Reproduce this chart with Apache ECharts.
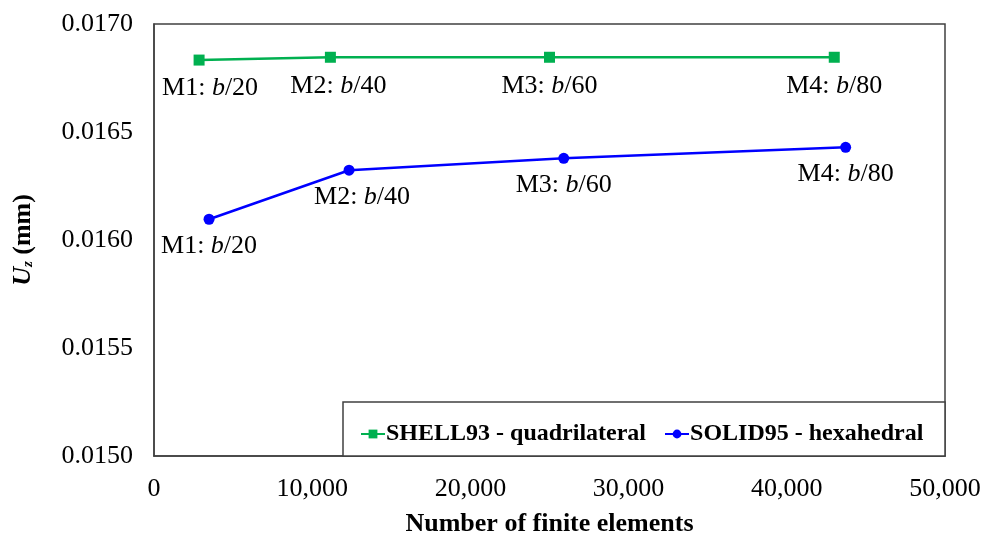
<!DOCTYPE html>
<html>
<head>
<meta charset="utf-8">
<script src="https://cdn.jsdelivr.net/npm/echarts@6/dist/echarts.min.js"></script>
<style>
  html, body { margin: 0; padding: 0; background: #fff; }
  #chart { width: 981px; height: 533px; }
</style>
</head>
<body>
<div id="chart"></div>
<script>
// Mesh refinement levels (element size b/n)
const meshNames = ['M1', 'M2', 'M3', 'M4'];
const meshDivisions = ['20', '40', '60', '80'];

// SHELL93 quadrilateral mesh: element count and displacement Uz (mm)
const shellElements = [2850, 11150, 25000, 43000];
const shellUz = [0.016833, 0.016846, 0.016846, 0.016846];

// SOLID95 hexahedral mesh: element count and displacement Uz (mm)
const solidElements = [3480, 12330, 25900, 43720];
const solidUz = [0.016096, 0.016323, 0.016378, 0.016429];

const seriesNames = ['SHELL93 - quadrilateral', 'SOLID95 - hexahedral'];

// horizontal nudges for individual point labels
const shellLabelShift = [11, 8, 0, 0];
const solidLabelShift = [0, 13, 0, 0];

const FONT = "'Liberation Serif', 'Times New Roman', serif";
const AXIS_COLOR = '#404040';

function withLabels(xs, ys, shift) {
  return xs.map((x, i) => ({ value: [x, ys[i]], label: { offset: [shift[i], 0] } }));
}

const labelRich = {
  n: { fontFamily: FONT, fontSize: 26, color: '#000' },
  i: { fontFamily: FONT, fontSize: 26, color: '#000', fontStyle: 'italic' }
};

function labelFormatter(p) {
  return '{n|' + meshNames[p.dataIndex] + ': }{i|b}{n|/' + meshDivisions[p.dataIndex] + '}';
}

const chart = echarts.init(document.getElementById('chart'));

chart.setOption({
  backgroundColor: '#fff',
  animation: false,
  grid: {
    left: 154, right: 36, top: 24, bottom: 77,
    containLabel: false,
    outerBoundsMode: 'none',
    show: true,
    borderColor: AXIS_COLOR,
    borderWidth: 1.5,
    backgroundColor: 'transparent'
  },
  graphic: [{
    type: 'rect',
    z: 1,
    shape: { x: 343, y: 402, width: 602, height: 54 },
    style: { fill: '#fff', stroke: AXIS_COLOR, lineWidth: 1.5 }
  }],
  legend: {
    left: 355,
    top: 417,
    itemWidth: 24,
    itemHeight: 11,
    itemGap: 18,
    data: seriesNames,
    textStyle: { fontFamily: FONT, fontSize: 24, fontWeight: 'bold', color: '#000', padding: [0, 0, 0, -4] }
  },
  xAxis: {
    type: 'value',
    min: 0,
    max: 50000,
    interval: 10000,
    name: 'Number of finite elements',
    nameLocation: 'middle',
    nameGap: 55,
    nameTextStyle: { fontFamily: FONT, fontSize: 26, fontWeight: 'bold', color: '#000' },
    axisLine: { show: true, lineStyle: { color: AXIS_COLOR, width: 1.5 } },
    axisTick: { show: false },
    splitLine: { show: false },
    axisLabel: {
      fontFamily: FONT, fontSize: 26, color: '#000', margin: 20,
      formatter: (v) => v.toLocaleString('en-US')
    }
  },
  yAxis: {
    type: 'value',
    min: 0.015,
    max: 0.017,
    interval: 0.0005,
    name: '{u|U}{z|z}{n| (mm)}',
    nameLocation: 'middle',
    nameRotate: 90,
    nameGap: 118,
    nameTextStyle: {
      rich: {
        u: { fontFamily: FONT, fontSize: 26, fontWeight: 'bold', fontStyle: 'italic', color: '#000' },
        z: { fontFamily: FONT, fontSize: 15, fontWeight: 'bold', fontStyle: 'italic', color: '#000', verticalAlign: 'bottom', padding: [10, 0, 0, 0] },
        n: { fontFamily: FONT, fontSize: 26, fontWeight: 'bold', color: '#000' }
      }
    },
    axisLine: { show: true, lineStyle: { color: AXIS_COLOR, width: 1.5 } },
    axisTick: { show: false },
    splitLine: { show: false },
    axisLabel: {
      fontFamily: FONT, fontSize: 26, color: '#000', margin: 21,
      formatter: (v) => v.toFixed(4)
    }
  },
  series: [
    {
      name: seriesNames[0],
      type: 'line',
      data: withLabels(shellElements, shellUz, shellLabelShift),
      symbol: 'rect',
      symbolSize: 11,
      color: '#00B050',
      lineStyle: { width: 2.5, color: '#00B050' },
      itemStyle: { color: '#00B050' },
      label: {
        show: true, position: 'bottom', distance: 10,
        formatter: labelFormatter, rich: labelRich
      },
      z: 3
    },
    {
      name: seriesNames[1],
      type: 'line',
      data: withLabels(solidElements, solidUz, solidLabelShift),
      symbol: 'circle',
      symbolSize: 11,
      color: '#0000FF',
      lineStyle: { width: 2.5, color: '#0000FF' },
      itemStyle: { color: '#0000FF' },
      label: {
        show: true, position: 'bottom', distance: 8,
        formatter: labelFormatter, rich: labelRich
      },
      z: 3
    }
  ]
});
</script>
</body>
</html>
